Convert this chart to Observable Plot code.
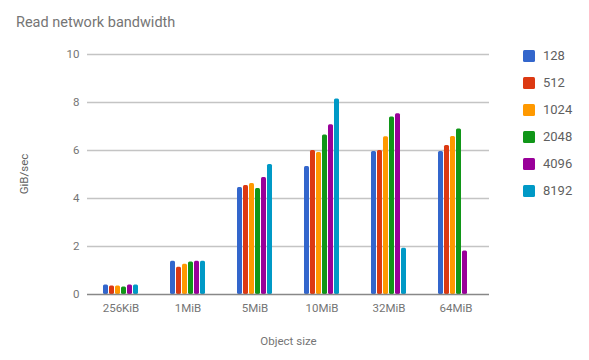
<!DOCTYPE html>
<html>
<head>
<meta charset="utf-8">
<script src="https://cdn.jsdelivr.net/npm/d3@7"></script>
<script src="https://cdn.jsdelivr.net/npm/@observablehq/plot@0.6"></script>
<style>
  html, body { margin: 0; padding: 0; background: #fff; }
  #wrap { position: relative; width: 589px; height: 360px; font-family: Roboto, "Noto Sans", sans-serif; }
  #title { position: absolute; left: 16px; top: 14px; font-size: 14.5px; color: #757575; }
  #chart { position: absolute; left: 0; top: 36px; }
  #ylabel { position: absolute; left: 24px; top: 174px; font-size: 11.5px; color: #5f5f5f; transform: translate(-50%, -50%) rotate(-90deg); white-space: nowrap; }
  #legend { position: absolute; left: 523px; top: 49px; font-size: 13px; color: #5f5f5f; }
  .item { display: flex; align-items: center; height: 27px; margin-top: 0; }
  .item:first-child { margin-top: -7px; }
  .sw { width: 12px; height: 12px; border-radius: 1.5px; margin-right: 8px; }
</style>
</head>
<body>
<div id="wrap">
  <div id="title">Read network bandwidth</div>
  <div id="chart"></div>
  <div id="ylabel">GiB/sec</div>
  <div id="legend"></div>
</div>
<script>
const categories = ["256KiB", "1MiB", "5MiB", "10MiB", "32MiB", "64MiB"];
const series = ["128", "512", "1024", "2048", "4096", "8192"];
const colors = ["#3366cc", "#dc3912", "#ff9900", "#109618", "#990099", "#0099c6"];
const v128  = [0.40, 1.39, 4.46, 5.33, 5.96, 5.96];
const v512  = [0.35, 1.14, 4.54, 6.00, 6.00, 6.21];
const v1024 = [0.35, 1.26, 4.62, 5.92, 6.57, 6.58];
const v2048 = [0.31, 1.35, 4.42, 6.65, 7.40, 6.90];
const v4096 = [0.40, 1.39, 4.88, 7.07, 7.53, 1.81];
const v8192 = [0.40, 1.39, 5.42, 8.15, 1.93, null];
const yTicks = [0, 2, 4, 6, 8, 10];

const valuesBySeries = [v128, v512, v1024, v2048, v4096, v8192];
const data = [];
series.forEach((s, si) => {
  categories.forEach((c, ci) => {
    const v = valuesBySeries[si][ci];
    if (v != null) data.push({category: c, series: s, value: v});
  });
});
const gridData = yTicks.filter(d => d > 0);

const chart = Plot.plot({
  width: 589,
  height: 324,
  marginLeft: 76,
  marginRight: 89,
  marginTop: 18,
  marginBottom: 66,
  style: {fontFamily: "Roboto, 'Noto Sans', sans-serif", fontSize: "11.5px", color: "#757575", background: "#fff"},
  facet: {data, x: "category"},
  fx: {domain: categories, paddingInner: 0, paddingOuter: 0.16, label: "Object size", labelAnchor: "center", labelOffset: 50, tickSize: 0, tickPadding: 9},
  x: {domain: series, axis: null, paddingInner: 0.14, paddingOuter: 1.88},
  y: {domain: [0, 10], ticks: yTicks, tickSize: 0, tickPadding: 8, label: null, tickFormat: d => String(d)},
  color: {domain: series, range: colors},
  marks: [
    Plot.ruleY(gridData, {stroke: "#c4c4c4", strokeWidth: 1.5}),
    Plot.barY(data, {x: "series", y: "value", fill: "series", rx: 1.5}),
    Plot.ruleY([0], {stroke: "#888888", strokeWidth: 1.5})
  ]
});
document.getElementById("chart").appendChild(chart);

const legend = document.getElementById("legend");
series.forEach((s, i) => {
  const item = document.createElement("div");
  item.className = "item";
  const sw = document.createElement("div");
  sw.className = "sw";
  sw.style.background = colors[i];
  const t = document.createElement("span");
  t.textContent = s;
  item.appendChild(sw);
  item.appendChild(t);
  legend.appendChild(item);
});
</script>
</body>
</html>
